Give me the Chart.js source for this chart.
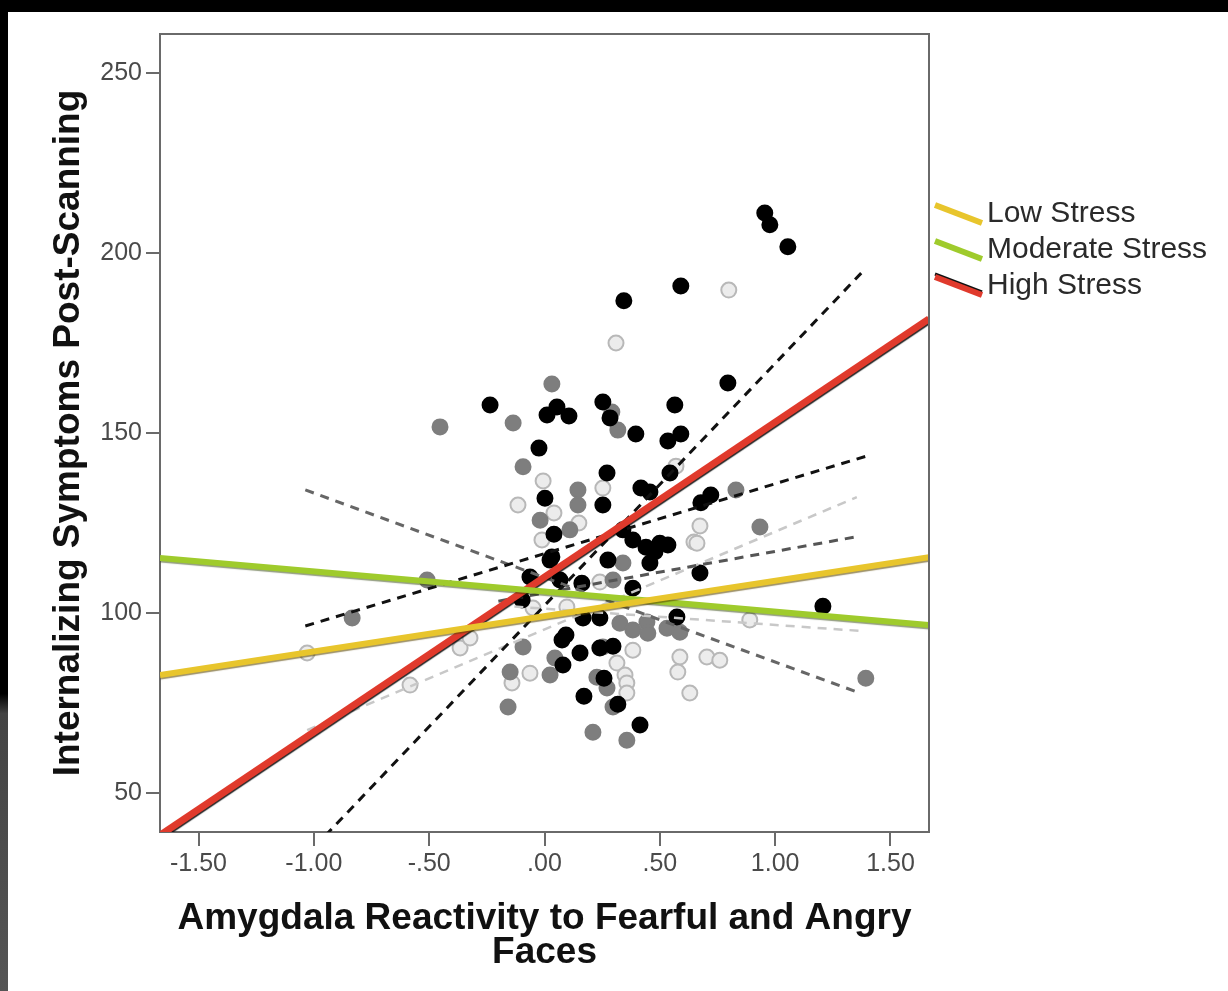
<!DOCTYPE html>
<html>
<head>
<meta charset="utf-8">
<title>Amygdala Reactivity and Internalizing Symptoms</title>
<script src="https://cdn.jsdelivr.net/npm/chart.js@4.4.1/dist/chart.umd.min.js"></script>
<style>
  html, body { margin: 0; padding: 0; }
  body {
    width: 1228px; height: 991px; overflow: hidden;
    background: linear-gradient(to bottom, #000 0%, #000 70%, #444 72%, #555 100%);
  }
  #wrap { position: absolute; left: 8px; top: 12px; width: 1220px; height: 979px; background: #fff; }
</style>
</head>
<body>
<div id="wrap"><canvas id="scatterChart" width="1220" height="979"></canvas></div>
<script>
// ===================================
// Amygdala reactivity vs internalizing symptoms, by stress group
// ===================================

// Axis ranges and ticks
const xMin = -1.667, xMax = 1.667;
const yMin = 39.2, yMax = 260.8;
const xTickValues = [-1.5, -1, -0.5, 0, 0.5, 1, 1.5];
const xTickLabels = ['-1.50', '-1.00', '-.50', '.00', '.50', '1.00', '1.50'];
const yTickValues = [50, 100, 150, 200, 250];
const yTickLabels = ['50', '100', '150', '200', '250'];

const legendLabels = ['Low Stress', 'Moderate Stress', 'High Stress'];
const legendColors = ['#e8c52c', '#9fcb2c', '#e03a2c'];

// Scatter points [x, y]
const highStressPoints = [
    [0.955, 211.1], [0.977, 207.8], [1.055, 201.7], [0.591, 190.8], [0.344, 186.7],
    [0.795, 163.9], [0.565, 157.8], [0.591, 149.7], [0.535, 147.8], [0.396, 149.7],
    [0.253, 158.6], [0.284, 154.2], [-0.236, 157.8], [0.011, 155.0], [0.054, 157.2],
    [0.106, 154.7], [-0.024, 145.8], [0.271, 138.9], [0.544, 138.9], [0.002, 131.9],
    [0.253, 130.0], [0.418, 134.7], [0.457, 133.6], [0.678, 130.6], [0.721, 132.8],
    [0.041, 121.9], [0.340, 123.1], [0.383, 120.3], [0.500, 119.4], [0.535, 118.9],
    [0.032, 115.6], [-0.063, 110.0], [0.024, 114.7], [0.067, 109.2], [0.162, 108.3],
    [0.275, 114.7], [0.383, 106.9], [0.457, 113.9], [0.674, 111.1], [-0.097, 103.6],
    [0.167, 98.6], [0.240, 98.6], [0.093, 93.9], [0.076, 92.5], [0.154, 88.9],
    [0.240, 90.3], [0.297, 90.8], [0.080, 85.6], [0.258, 81.9], [0.171, 76.9],
    [0.318, 74.7], [0.414, 68.9], [0.574, 98.9], [0.440, 118.3], [1.207, 101.9],
    [0.479, 117.0]
];
const moderateStressPoints = [
    [-0.453, 151.7], [0.032, 163.6], [-0.136, 152.8], [0.292, 155.8], [0.318, 150.8],
    [-0.093, 140.6], [0.145, 134.2], [0.145, 130.0], [-0.019, 125.8], [0.110, 123.1],
    [0.830, 134.2], [0.934, 123.9], [1.393, 81.9], [-0.834, 98.6], [-0.509, 109.2],
    [0.340, 113.9], [0.297, 109.2], [0.327, 97.2], [0.383, 95.3], [0.444, 97.5],
    [0.531, 95.8], [0.448, 94.4], [0.587, 94.7], [-0.093, 90.6], [-0.149, 83.6],
    [0.024, 82.8], [0.045, 87.5], [0.227, 82.2], [0.271, 79.2], [0.297, 73.9],
    [-0.158, 73.9], [0.210, 66.9], [0.357, 64.7], [0.253, 90.6]
];
const lowStressPoints = [
    [0.799, 189.7], [0.310, 175.0], [-0.006, 136.7], [-0.115, 130.0], [0.041, 127.8],
    [0.253, 134.7], [0.149, 125.0], [0.674, 124.2], [0.648, 119.7], [-0.011, 120.3],
    [0.570, 140.8], [-0.063, 83.3], [-0.141, 80.6], [0.383, 89.7], [0.314, 86.1],
    [0.349, 82.8], [0.357, 80.6], [0.357, 77.8], [0.587, 87.8], [0.578, 83.6],
    [0.704, 87.8], [0.630, 77.8], [0.661, 119.4], [0.097, 101.7], [0.240, 108.6],
    [-0.050, 101.4], [0.890, 98.1], [0.760, 86.9], [-1.029, 88.9], [-0.583, 80.0],
    [-0.366, 90.3], [-0.323, 93.1]
];

// Fit lines [x, y] end points
const lowStressFit = [[-1.667, 82.8], [1.667, 115.5]];
const moderateStressFit = [[-1.667, 115.3], [1.667, 96.7]];
const highStressFit = [[-1.667, 38.3], [1.667, 181.7]];

// Dashed group lines
const highDashSteep = [[-0.95, 38.2], [1.373, 194.4]];
const highDashShallow = [[-1.037, 96.4], [1.397, 143.6]];
const moderateDashDown = [[-1.037, 134.2], [1.354, 78.1]];
const moderateDashFlat = [[-0.2, 103.3], [1.345, 121.1]];
const lowDashUp = [[-1.029, 67.5], [1.354, 132.2]];
const lowDashFlat = [[-0.2, 102.1], [1.38, 95.0]];

function toXY(list) {
    return list.map(p => ({ x: p[0], y: p[1] }));
}

function pointSet(label, list, fill, border, order) {
    return {
        label: label,
        data: toXY(list),
        backgroundColor: fill,
        borderColor: border,
        borderWidth: 2,
        pointRadius: 7.5,
        pointHoverRadius: 7.5,
        order: order
    };
}

function lineSet(label, list, color, width, dash, order, shadow) {
    return {
        label: label,
        type: 'line',
        data: toXY(list),
        borderColor: color,
        borderWidth: width,
        borderDash: dash,
        borderCapStyle: 'butt',
        pointRadius: 0,
        fill: false,
        order: order,
        shadow: shadow
    };
}

// Dark edge under the coloured fit lines
const lineShadow = {
    id: 'lineShadow',
    beforeDatasetDraw(chart, args) {
        const ds = chart.data.datasets[args.index];
        chart.ctx.save();
        if (ds.shadow) {
            chart.ctx.shadowColor = ds.shadow;
            chart.ctx.shadowOffsetX = 0.5;
            chart.ctx.shadowOffsetY = 1.5;
            chart.ctx.shadowBlur = 1;
        }
    },
    afterDatasetDraw(chart) {
        chart.ctx.restore();
    }
};

// Top and right edges of the plot frame
const plotFrame = {
    id: 'plotFrame',
    afterDraw(chart) {
        const a = chart.chartArea;
        const ctx = chart.ctx;
        ctx.save();
        ctx.strokeStyle = '#6a6a6a';
        ctx.lineWidth = 2;
        ctx.beginPath();
        ctx.moveTo(a.left, a.top);
        ctx.lineTo(a.right, a.top);
        ctx.lineTo(a.right, a.bottom);
        ctx.stroke();
        ctx.restore();
    }
};

// Legend with slanted line keys, outside the plot on the right
const slantLegend = {
    id: 'slantLegend',
    afterDraw(chart) {
        const a = chart.chartArea;
        const ctx = chart.ctx;
        ctx.save();
        ctx.font = '30px "Liberation Sans", Arial, sans-serif';
        ctx.textBaseline = 'middle';
        ctx.textAlign = 'left';
        legendLabels.forEach((label, i) => {
            const cy = 202 + i * 36;
            const x0 = a.right + 6, x1 = a.right + 53;
            if (i === 2) {
                ctx.strokeStyle = '#111';
                ctx.lineWidth = 3;
                ctx.beginPath();
                ctx.moveTo(x0, cy - 12);
                ctx.lineTo(x1, cy + 6);
                ctx.stroke();
            }
            ctx.strokeStyle = legendColors[i];
            ctx.lineWidth = 6;
            ctx.beginPath();
            ctx.moveTo(x0, cy - 9);
            ctx.lineTo(x1, cy + 9);
            ctx.stroke();
            ctx.fillStyle = '#2a2a2a';
            ctx.fillText(label, a.right + 58, cy);
        });
        ctx.restore();
    }
};

const tickFont = { family: '"Liberation Sans Narrow", "Liberation Sans", Arial, sans-serif', size: 25 };
const titleFont = { family: '"Liberation Sans", Arial, sans-serif', size: 37, weight: 'bold' };

const ctx = document.getElementById('scatterChart');
const scatterChart = new Chart(ctx, {
    type: 'scatter',
    data: {
        datasets: [
            lineSet('Low Stress', lowStressFit, legendColors[0], 6, [], 0, 'rgba(90,70,0,0.6)'),
            lineSet('Moderate Stress', moderateStressFit, legendColors[1], 6, [], 0, 'rgba(40,60,0,0.5)'),
            lineSet('High Stress', highStressFit, legendColors[2], 7, [], 0, 'rgba(0,0,0,0.85)'),
            lineSet('High dash A', highDashSteep, '#111', 3, [9, 7], 1, null),
            lineSet('High dash B', highDashShallow, '#111', 3, [9, 7], 1, null),
            lineSet('Moderate dash A', moderateDashDown, '#666', 3, [9, 7], 1, null),
            lineSet('Moderate dash B', moderateDashFlat, '#555', 3, [9, 7], 1, null),
            lineSet('Low dash A', lowDashUp, '#c8c8c8', 2.5, [9, 7], 1, null),
            lineSet('Low dash B', lowDashFlat, '#c8c8c8', 2.5, [9, 7], 1, null),
            pointSet('High', highStressPoints, '#000', '#000', 2),
            pointSet('Moderate', moderateStressPoints, '#7e7e7e', '#7e7e7e', 3),
            pointSet('Low', lowStressPoints, '#ececec', '#b8b8b8', 4)
        ]
    },
    options: {
        responsive: false,
        animation: false,
        events: [],
        layout: { padding: { left: 0, top: 22, right: 299, bottom: 0 } },
        plugins: {
            legend: { display: false },
            tooltip: { enabled: false }
        },
        scales: {
            x: {
                type: 'linear',
                min: xMin,
                max: xMax,
                afterBuildTicks: s => { s.ticks = xTickValues.map(v => ({ value: v })); },
                afterFit: s => { s.height = 159; },
                ticks: {
                    font: tickFont,
                    color: '#4a4a4a',
                    padding: 3,
                    maxRotation: 0,
                    callback: v => xTickLabels[xTickValues.indexOf(v)]
                },
                grid: { drawOnChartArea: false, drawTicks: true, tickLength: 14, color: '#6a6a6a', lineWidth: 2 },
                border: { display: true, color: '#6a6a6a', width: 2 },
                title: {
                    display: true,
                    text: ['Amygdala Reactivity to Fearful and Angry', 'Faces'],
                    font: Object.assign({ lineHeight: 0.9 }, titleFont),
                    color: '#111',
                    padding: { top: 0, bottom: 22 }
                }
            },
            y: {
                type: 'linear',
                min: yMin,
                max: yMax,
                afterBuildTicks: s => { s.ticks = yTickValues.map(v => ({ value: v })); },
                afterFit: s => { s.width = 152; },
                ticks: {
                    font: tickFont,
                    color: '#4a4a4a',
                    padding: 4,
                    callback: v => yTickLabels[yTickValues.indexOf(v)]
                },
                grid: { drawOnChartArea: false, drawTicks: true, tickLength: 14, color: '#6a6a6a', lineWidth: 2 },
                border: { display: true, color: '#6a6a6a', width: 2 },
                title: {
                    display: true,
                    text: 'Internalizing Symptoms Post-Scanning',
                    font: Object.assign({ lineHeight: 1.2 }, titleFont),
                    color: '#111',
                    padding: { top: 39, bottom: 0 }
                }
            }
        }
    },
    plugins: [lineShadow, plotFrame, slantLegend]
});
</script>
</body>
</html>
